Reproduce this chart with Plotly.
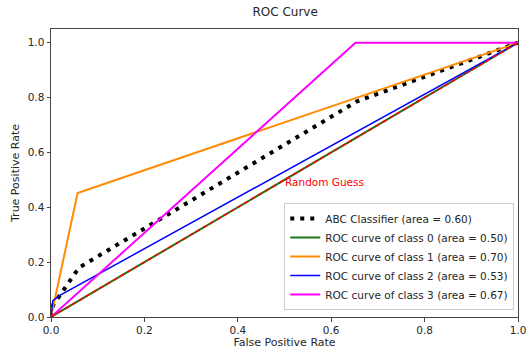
import plotly.graph_objects as go

# ---- data ----
abc_fpr = [0.0, 0.005, 0.06, 0.655, 1.0]
abc_tpr = [0.0, 0.045, 0.18, 0.786, 1.0]

c0_fpr = [0.0, 1.0]
c0_tpr = [0.0, 1.0]

c1_fpr = [0.0, 0.057, 1.0]
c1_tpr = [0.0, 0.452, 1.0]

c2_fpr = [0.0, 0.004, 0.02, 1.0]
c2_tpr = [0.0, 0.06, 0.08, 1.0]

c3_fpr = [0.0, 0.652, 1.0]
c3_tpr = [0.0, 1.0, 1.0]

rg_x = [0.0, 1.0]
rg_y = [0.0, 1.0]

labels = [
    "ABC Classifier (area = 0.60)",
    "ROC curve of class 0 (area = 0.50)",
    "ROC curve of class 1 (area = 0.70)",
    "ROC curve of class 2 (area = 0.53)",
    "ROC curve of class 3 (area = 0.67)",
]
ticks = [0.0, 0.2, 0.4, 0.6, 0.8, 1.0]
tick_text = ["0.0", "0.2", "0.4", "0.6", "0.8", "1.0"]

FONT = "DejaVu Sans"
TXT = "#262626"

fig = go.Figure()
fig.add_trace(go.Scatter(x=abc_fpr, y=abc_tpr, mode="lines", name=labels[0],
                         line=dict(color="black", width=4, dash="4px,6px")))
fig.add_trace(go.Scatter(x=c0_fpr, y=c0_tpr, mode="lines", name=labels[1],
                         line=dict(color="#1a7a1a", width=2)))
fig.add_trace(go.Scatter(x=c1_fpr, y=c1_tpr, mode="lines", name=labels[2],
                         line=dict(color="darkorange", width=2)))
fig.add_trace(go.Scatter(x=c2_fpr, y=c2_tpr, mode="lines", name=labels[3],
                         line=dict(color="blue", width=1.5)))
fig.add_trace(go.Scatter(x=c3_fpr, y=c3_tpr, mode="lines", name=labels[4],
                         line=dict(color="magenta", width=2)))
fig.add_trace(go.Scatter(x=rg_x, y=rg_y, mode="lines", showlegend=False,
                         line=dict(color="red", width=1.5, dash="5px,3px")))

fig.add_annotation(x=0.497, y=0.493, xref="x", yref="y", text="Random Guess",
                   showarrow=False, xanchor="left", yanchor="middle",
                   font=dict(family=FONT, size=10.5, color="red"))

axis_common = dict(showgrid=False, zeroline=False, showline=True, linecolor="#444",
                   linewidth=1, mirror=True, ticks="outside", ticklen=3.5,
                   tickcolor="#444", tickvals=ticks, ticktext=tick_text,
                   automargin=False,
                   tickfont=dict(family=FONT, size=10.5, color=TXT))

fig.update_xaxes(range=[0, 1], ticklabeloverflow="allow",
                 title=dict(text="False Positive Rate", standoff=3,
                            font=dict(family=FONT, size=11, color=TXT)), **axis_common)
fig.update_yaxes(range=[0, 1.05],
                 title=dict(text="True Positive Rate", standoff=5,
                            font=dict(family=FONT, size=11, color=TXT)), **axis_common)

fig.update_layout(
    width=528, height=350,
    margin=dict(l=51, r=10, t=29, b=33, autoexpand=False),
    paper_bgcolor="white", plot_bgcolor="white",
    title=dict(text="ROC Curve", x=0.54, xanchor="center", y=0.965, yanchor="middle",
               font=dict(family=FONT, size=12, color=TXT)),
    legend=dict(x=0.992, y=0.024, xanchor="right", yanchor="bottom",
                bgcolor="rgba(255,255,255,0.85)", bordercolor="#cccccc", borderwidth=1,
                font=dict(family=FONT, size=10.5, color=TXT),
                itemwidth=30, tracegroupgap=0),
    showlegend=True,
)

fig.write_html("out.html")
